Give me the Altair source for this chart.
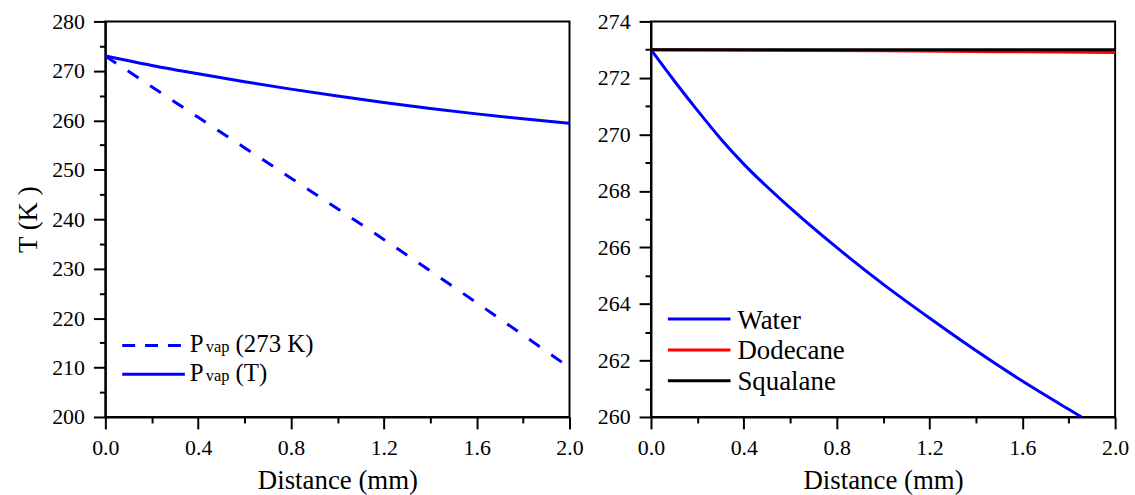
import altair as alt
import pandas as pd

# ---- left panel: temperature along the channel for two vapour-pressure models ----
dist_left = [0.0, 0.2, 0.4, 0.6, 0.8, 1.0, 1.2, 1.4, 1.6, 1.8, 2.0]
t_pvap_T = [273.0, 271.1, 269.4, 267.8, 266.3, 264.9, 263.6, 262.4, 261.3, 260.3, 259.4]
dist_dashed = [0.0, 0.4, 0.8, 1.2, 1.6, 2.0]
t_pvap_273 = [273.0, 260.6, 248.3, 235.9, 223.1, 210.0]

# ---- right panel: temperature for three liquids ----
dist_water = [0.0, 0.1, 0.2, 0.3, 0.4, 0.6, 0.8, 1.0, 1.2, 1.4, 1.6, 1.8, 1.855]
t_water = [273.0, 271.9, 270.85, 269.85, 268.95, 267.4, 266.0, 264.7, 263.5, 262.35, 261.27, 260.27, 260.0]
dist_liq = [0.0, 0.5, 1.0, 1.5, 2.0]
t_dodecane = [273.0, 272.98, 272.96, 272.93, 272.90]
t_squalane = [273.0, 273.0, 273.0, 273.0, 273.0]

x_ticks = [0.0, 0.2, 0.4, 0.6, 0.8, 1.0, 1.2, 1.4, 1.6, 1.8, 2.0]
y_ticks_left = list(range(200, 281, 5))
y_ticks_right = list(range(260, 275, 1))

FONT = "Liberation Serif, Times New Roman, serif"
BLUE = "#0000FF"
RED = "#FF0000"
BLACK = "#000000"
W, H = 467, 398

x_major = "abs(datum.value / 0.4 - round(datum.value / 0.4)) < 0.001"


def x_enc():
    return alt.X(
        "d:Q",
        scale=alt.Scale(domain=[0, 2], nice=False, zero=False),
        axis=alt.Axis(
            title="Distance (mm)",
            values=x_ticks,
            labelExpr=f"{x_major} ? format(datum.value, '.1f') : ''",
            tickSize={"condition": {"test": x_major, "value": 12}, "value": 6},
            labelOverlap=False,
            labelFlush=False,
            labelPadding=9,
            titlePadding=9,
            labelFont=FONT,
            titleFont=FONT,
        ),
    )


def y_enc(domain, ticks, step, title):
    major = f"datum.value % {step} == 0"
    kw = {}
    if title:
        kw["title"] = title
    return alt.Y(
        "t:Q",
        scale=alt.Scale(domain=domain, nice=False, zero=False),
        axis=alt.Axis(
            values=ticks,
            labelExpr=f"{major} ? datum.label : ''",
            tickSize={"condition": {"test": major, "value": 12}, "value": 6},
            labelOverlap=False,
            labelFlush=False,
            labelPadding=9,
            titlePadding=9,
            labelFont=FONT,
            titleFont=FONT,
            **kw,
        ),
        title=title if title else None,
    )


def series(xs, ys, color, dash=None, domain=None, ticks=None, step=None, title=None):
    df = pd.DataFrame({"d": xs, "t": ys})
    mark_kw = dict(color=color, strokeWidth=3, clip=True, interpolate="monotone")
    if dash:
        mark_kw["strokeDash"] = dash
    return alt.Chart(df).mark_line(**mark_kw).encode(
        x=x_enc(), y=y_enc(domain, ticks, step, title)
    )


one = pd.DataFrame({"k": [0]})


def legend_line(x1, x2, y, color, dash=None):
    kw = dict(color=color, strokeWidth=3)
    if dash:
        kw["strokeDash"] = dash
    return alt.Chart(one).mark_rule(**kw).encode(
        x=alt.value(x1), x2=alt.value(x2), y=alt.value(y)
    )


def legend_text(x, y, txt, size):
    return alt.Chart(one).mark_text(
        text=txt, font=FONT, fontSize=size, color=BLACK,
        align="left", baseline="alphabetic",
    ).encode(x=alt.value(x), y=alt.value(y))


# legend of the left panel (positions relative to the plot area)
lx0 = 17
left_legend = [
    legend_line(lx0, lx0 + 63, 326, BLUE, [13, 10]),
    legend_text(lx0 + 68, 333, "P", 25),
    legend_text(lx0 + 84, 333, "vap", 16.5),
    legend_text(lx0 + 114, 333, "(273 K)", 25),
    legend_line(lx0, lx0 + 63, 355, BLUE),
    legend_text(lx0 + 68, 362, "P", 25),
    legend_text(lx0 + 84, 362, "vap", 16.5),
    legend_text(lx0 + 114, 362, "(T)", 25),
]

left = alt.layer(
    series(dist_dashed, t_pvap_273, BLUE, [13, 14], [200, 280], y_ticks_left, 10, "T (K )"),
    series(dist_left, t_pvap_T, BLUE, None, [200, 280], y_ticks_left, 10, "T (K )"),
    *left_legend,
).properties(width=W, height=H)

# legend of the right panel
rx0 = 17
right_legend = []
for i, (name, col) in enumerate([("Water", BLUE), ("Dodecane", RED), ("Squalane", BLACK)]):
    yl = 299.5 + 31 * i
    right_legend.append(legend_line(rx0, rx0 + 63, yl, col))
    right_legend.append(legend_text(rx0 + 70, yl + 9.5, name, 27))

right = alt.layer(
    series(dist_water, t_water, BLUE, None, [260, 274], y_ticks_right, 2),
    series(dist_liq, t_dodecane, RED, None, [260, 274], y_ticks_right, 2),
    series(dist_liq, t_squalane, BLACK, None, [260, 274], y_ticks_right, 2),
    *right_legend,
).properties(width=W, height=H)

chart = (
    alt.hconcat(left, right, spacing=82, bounds="flush")
    .properties(padding={"left": 14, "top": 8, "right": 5, "bottom": 5})
    .configure_view(stroke=BLACK, strokeWidth=2)
    .configure_axis(
        grid=False,
        domainColor=BLACK,
        domainWidth=2,
        tickColor=BLACK,
        tickWidth=2,
        labelFont=FONT,
        labelFontSize=22,
        labelColor=BLACK,
        titleFont=FONT,
        titleFontSize=27,
        titleFontWeight="normal",
        titleColor=BLACK,
    )
)

chart.save("out.html", embed_options={"renderer": "svg", "actions": False})
